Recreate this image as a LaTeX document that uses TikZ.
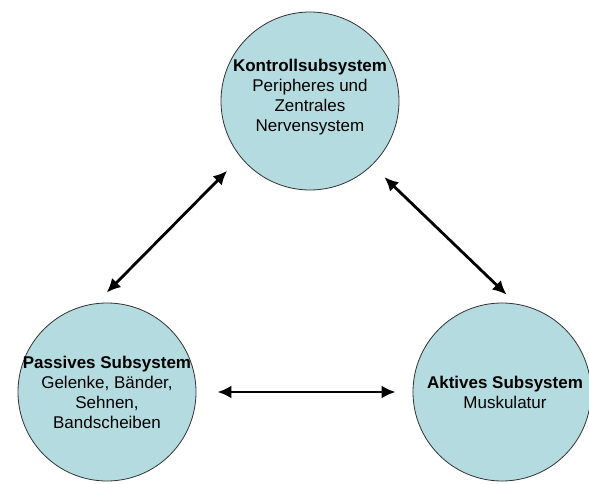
\documentclass[tikz,border=0pt]{standalone}
\usepackage{fontspec}
\setmainfont{Liberation Sans}
\usetikzlibrary{arrows.meta}
\definecolor{subfill}{HTML}{B4DCE0}
\tikzset{
    subsys/.style={circle, draw=black!80, line width=0.8pt, fill=subfill, minimum size=178pt, inner sep=0pt},
    subtext/.style={align=center, inner sep=0pt, font=\fontsize{17}{20}\selectfont},
    link/.style={{Latex[length=14pt,width=13pt]}-{Latex[length=14pt,width=13pt]}, line width=2.8pt}
}
\begin{document}
\begin{tikzpicture}[x=1pt, y=-1pt]
    \useasboundingbox (0,0) rectangle (589,484);
    \node[subsys] (kontroll) at (310,101) {};
    \node[subsys] (passiv) at (107,392) {};
    \node[subsys] (aktiv) at (502,392) {};

    \node[subtext] (kontrolltext) at ([yshift=4pt]kontroll.center) {\textbf{Kontrollsubsystem}\\Peripheres und\\Zentrales\\Nervensystem};
    \node[subtext] (passivtext) at (passiv.center) {\textbf{Passives Subsystem}\\Gelenke, Bänder,\\Sehnen,\\Bandscheiben};
    \node[subtext] (aktivtext) at ([xshift=3pt]aktiv.center) {\textbf{Aktives Subsystem}\\Muskulatur};

    \draw[link, shorten <=15pt, shorten >=19pt] (passiv.97) -- (kontroll.219);
    \draw[link, shorten <=17pt, shorten >=13pt] (kontroll.-46) -- (aktiv.81);
    \draw[link, shorten <=21pt, shorten >=17pt] (passiv.east) -- (aktiv.west);
\end{tikzpicture}
\end{document}
